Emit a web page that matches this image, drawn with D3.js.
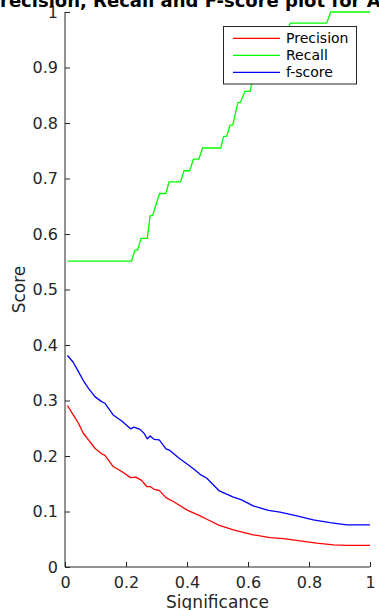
<!DOCTYPE html>
<html><head><meta charset="utf-8">
<script src="https://cdn.jsdelivr.net/npm/d3@7/dist/d3.min.js"></script>
<style>body{margin:0;background:#fff}svg{display:block;font-family:"DejaVu Sans",sans-serif}</style>
</head><body><svg id="c" width="379" height="610"></svg>
<script>
const title = "Precision, Recall and F-score plot for All Classes";
const xLabel = "Significance";
const yLabel = "Score";
const xTicks = [0, 0.2, 0.4, 0.6, 0.8, 1];
const yTicks = [0, 0.1, 0.2, 0.3, 0.4, 0.5, 0.6, 0.7, 0.8, 0.9, 1];
const seriesNames = ["Precision", "Recall", "f-score"];
const seriesColors = ["#ff0000", "#00ff00", "#0000ff"];

const precisionX = [0.008,0.027,0.044,0.06,0.077,0.098,0.12,0.131,0.158,0.186,0.215,0.232,0.251,0.268,0.279,0.292,0.309,0.331,0.355,0.399,0.443,0.465,0.506,0.552,0.617,0.672,0.716,0.771,0.825,0.88,0.924,1.0];
const precisionY = [0.291,0.274,0.259,0.241,0.229,0.214,0.204,0.201,0.181,0.172,0.161,0.162,0.156,0.145,0.145,0.140,0.138,0.125,0.118,0.103,0.092,0.086,0.075,0.067,0.058,0.053,0.051,0.047,0.043,0.040,0.039,0.039];

const recallX = [0.008,0.218,0.229,0.238,0.249,0.27,0.279,0.287,0.31,0.331,0.341,0.379,0.39,0.409,0.421,0.439,0.451,0.511,0.52,0.53,0.541,0.55,0.567,0.575,0.59,0.607,0.615,0.63,0.64,0.66,0.67,0.69,0.70,0.71,0.72,0.728,0.738,0.858,0.871,1.0];
const recallY = [0.551,0.551,0.571,0.571,0.592,0.592,0.633,0.633,0.673,0.673,0.694,0.694,0.714,0.714,0.735,0.735,0.755,0.755,0.776,0.776,0.796,0.796,0.837,0.837,0.857,0.857,0.878,0.878,0.898,0.898,0.918,0.918,0.939,0.939,0.959,0.959,0.980,0.980,1.0,1.0];

const fscoreX = [0.008,0.027,0.044,0.06,0.077,0.098,0.12,0.131,0.158,0.186,0.215,0.226,0.246,0.259,0.27,0.279,0.292,0.309,0.331,0.344,0.372,0.399,0.421,0.443,0.465,0.506,0.552,0.579,0.617,0.667,0.705,0.76,0.814,0.869,0.924,1.0];
const fscoreY = [0.381,0.369,0.352,0.336,0.322,0.307,0.298,0.295,0.274,0.263,0.249,0.252,0.248,0.241,0.231,0.236,0.230,0.229,0.213,0.210,0.197,0.186,0.177,0.167,0.160,0.137,0.126,0.121,0.110,0.102,0.099,0.092,0.085,0.080,0.076,0.076];

const svg = d3.select("#c");
const L = 65, R = 370, T = 12, B = 567;
const x = d3.scaleLinear().domain([0, 1]).range([L, R]);
const y = d3.scaleLinear().domain([0, 1]).range([B, T]);
const ink = "#262626";

// lines
const line = d3.line().x(d => x(d[0])).y(d => y(d[1]));
const series = [
  d3.zip(precisionX, precisionY),
  d3.zip(recallX, recallY),
  d3.zip(fscoreX, fscoreY)
];
series.forEach((s, i) => {
  svg.append("path").datum(s).attr("d", line).attr("fill", "none")
    .attr("stroke", seriesColors[i]).attr("stroke-width", 1.3).attr("stroke-linejoin", "round");
});

// axes
const xAxis = d3.axisBottom(x).tickValues(xTicks).tickSize(-5).tickPadding(12).tickFormat(d3.format("~g"));
const yAxis = d3.axisLeft(y).tickValues(yTicks).tickSize(-5).tickPadding(12).tickFormat(d3.format("~g"));
const gx = svg.append("g").attr("transform", `translate(0,${B})`).call(xAxis);
const gy = svg.append("g").attr("transform", `translate(${L},0)`).call(yAxis);
[gx, gy].forEach(g => {
  g.select(".domain").attr("stroke", ink).attr("stroke-width", 1);
  g.selectAll(".tick line").attr("stroke", ink).attr("stroke-width", 1);
  g.selectAll(".tick text").attr("fill", ink).attr("font-size", 16).attr("font-family", "DejaVu Sans");
});
gx.select(".domain").attr("d", `M${L},0H${R}`);
gy.select(".domain").attr("d", `M0,${T}V${B}`);
gx.selectAll(".tick text").attr("dy", null).attr("y", 21);
gy.selectAll(".tick text").attr("x", -7);

// labels
svg.append("text").attr("x", (L + R) / 2).attr("y", 608).attr("text-anchor", "middle")
  .attr("font-size", 17).attr("fill", ink).text(xLabel);
svg.append("text").attr("transform", `translate(25,${(T + B) / 2}) rotate(-90)`).attr("text-anchor", "middle")
  .attr("font-size", 17).attr("fill", ink).text(yLabel);
svg.append("text").attr("x", -13.2).attr("y", 7).attr("text-anchor", "start")
  .attr("font-size", 18).attr("font-weight", "bold").attr("fill", "#000").text(title);

// legend
const lg = svg.append("g");
lg.append("rect").attr("x", 223.5).attr("y", 26.5).attr("width", 133).attr("height", 57.5)
  .attr("fill", "#fff").attr("stroke", ink).attr("stroke-width", 1);
seriesNames.forEach((n, i) => {
  const yy = 38.3 + i * 17;
  lg.append("line").attr("x1", 233).attr("x2", 280).attr("y1", yy).attr("y2", yy)
    .attr("stroke", seriesColors[i]).attr("stroke-width", 1.3);
  lg.append("text").attr("x", 286).attr("y", yy + 4.7).attr("font-size", 14).attr("fill", "#000").text(n);
});
</script></body></html>
